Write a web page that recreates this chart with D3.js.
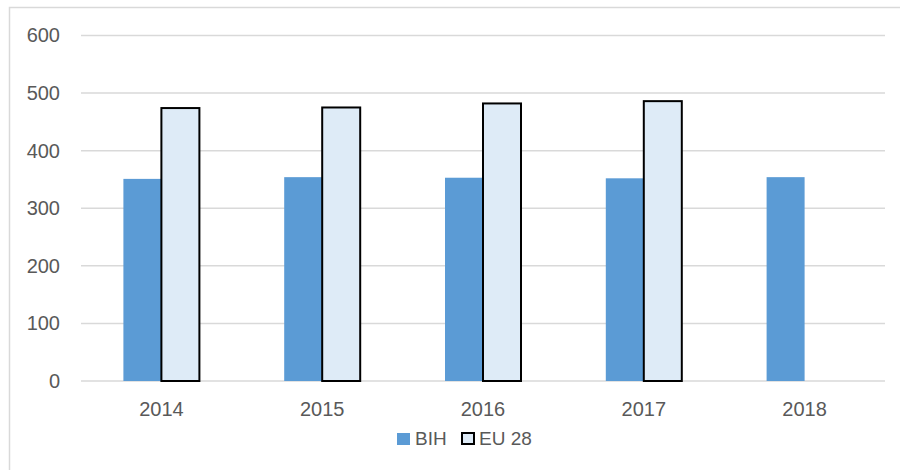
<!DOCTYPE html>
<meta charset="utf-8">
<style>
    body { margin: 0; background: #fff; }
    text { font-family: "Liberation Sans", Arial, sans-serif; fill: #595959; }
    .grid line { stroke: #d9d9d9; stroke-width: 1.5; }
    .axis path, .axis line { display: none; }
</style>
<body>
<script src="https://cdn.jsdelivr.net/npm/d3@7"></script>
<script>

    var years = ["2014", "2015", "2016", "2017", "2018"];
    var series = ["BIH", "EU 28"];
    var bihValues = [351, 354, 353, 352, 354];
    var euValues = [474, 475, 482, 486, null];
    var yTicks = [0, 100, 200, 300, 400, 500, 600];

    var colors = {"BIH": "#5b9bd5", "EU 28": "#deebf7"};
    var strokes = {"BIH": "none", "EU 28": "#000"};

    var margin = {top: 35.5, left: 81, right: 15, bottom: 89},
        width = 900 - margin.left - margin.right,
        height = 470 - margin.top - margin.bottom;

    var svg = d3.select("body").append("svg")
        .attr("width", 900)
        .attr("height", 470);

    // chart frame, cut off on the right and bottom
    svg.append("rect")
        .attr("x", 9.5).attr("y", 7.5)
        .attr("width", 900).attr("height", 470)
        .attr("fill", "none")
        .attr("stroke", "#d9d9d9")
        .attr("stroke-width", 1.5);

    var g = svg.append("g")
        .attr("transform", "translate(" + margin.left + "," + margin.top + ")");

    var x0 = d3.scaleBand().domain(years).range([0, width]);
    var x1 = d3.scaleBand().domain(series).range([-38, 38]);
    var y = d3.scaleLinear().domain([0, 600]).range([height, 0]);

    g.append("g")
        .attr("class", "grid")
        .selectAll("line")
        .data(yTicks)
        .join("line")
        .attr("x1", 0).attr("x2", width)
        .attr("y1", function(d) { return y(d); })
        .attr("y2", function(d) { return y(d); });

    var rows = years.map(function(yr, i) {
        return [
            {year: yr, key: "BIH", value: bihValues[i]},
            {year: yr, key: "EU 28", value: euValues[i]}
        ];
    });

    g.append("g")
        .selectAll("g")
        .data(rows)
        .join("g")
        .attr("transform", function(d) { return "translate(" + (x0(d[0].year) + x0.bandwidth() / 2) + ",0)"; })
        .selectAll("rect")
        .data(function(d) { return d.filter(function(e) { return e.value != null; }); })
        .join("rect")
        .attr("x", function(d) { return x1(d.key); })
        .attr("width", x1.bandwidth())
        .attr("y", function(d) { return y(d.value); })
        .attr("height", function(d) { return y(0) - y(d.value); })
        .attr("fill", function(d) { return colors[d.key]; })
        .attr("stroke", function(d) { return strokes[d.key]; })
        .attr("stroke-width", 2);

    var yAxis = d3.axisLeft(y).tickValues(yTicks).tickSize(0).tickPadding(21);
    g.append("g").attr("class", "axis")
        .call(yAxis)
        .selectAll("text")
        .style("font-size", "20px");

    var xAxis = d3.axisBottom(x0).tickSize(0).tickPadding(21);
    g.append("g").attr("class", "axis")
        .attr("transform", "translate(0," + height + ")")
        .call(xAxis)
        .selectAll("text")
        .style("font-size", "20px");

    g.selectAll(".axis text").attr("fill", "#595959");

    // legend
    var legend = svg.append("g").attr("transform", "translate(0,433)");
    var legendX = {"BIH": 397, "EU 28": 462};
    series.forEach(function(s) {
        legend.append("rect")
            .attr("x", legendX[s]).attr("y", 0)
            .attr("width", s === "BIH" ? 13 : 12).attr("height", s === "BIH" ? 12 : 11)
            .attr("fill", colors[s])
            .attr("stroke", strokes[s])
            .attr("stroke-width", 2);
        legend.append("text")
            .attr("x", legendX[s] + (s === "BIH" ? 18 : 17))
            .attr("y", 12)
            .style("font-size", "19px")
            .text(s);
    });

</script>
</body>
